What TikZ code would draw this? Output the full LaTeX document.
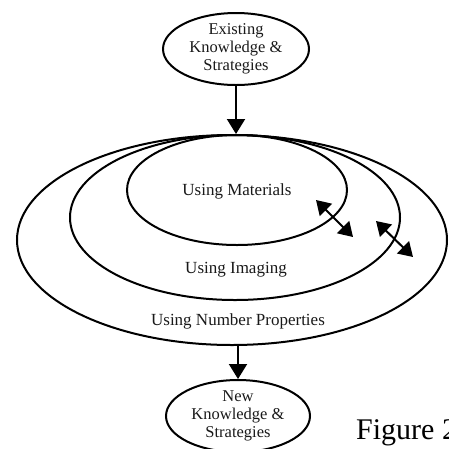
\documentclass[tikz,border=0pt]{standalone}
\usepackage{fontspec}
\setmainfont{Liberation Serif}
\usetikzlibrary{shapes.geometric,arrows.meta}
\tikzset{
  ellbox/.style={draw=black, ellipse, line width=2pt, inner sep=0pt},
  lbl/.style={text=black!90, font=\fontsize{16.5}{18}\selectfont, align=center, inner sep=0pt},
  big/.style={font=\fontsize{17}{19}\selectfont},
  arr/.style={line width=2pt, -{Triangle[length=15pt,width=18pt]}},
  darr/.style={line width=2pt, {Triangle[length=14pt,width=17pt]}-{Triangle[length=14pt,width=17pt]}},
}
\begin{document}
\begin{tikzpicture}[x=1pt,y=-1pt]
\useasboundingbox (0,0) rectangle (449,448);
\clip (0,0) rectangle (449,448);
% top node
\node[ellbox, minimum width=146pt, minimum height=72pt] (ek) at (236,49) {};
\node[lbl] (ektext) at (ek.center) {Existing\\Knowledge \&\\Strategies};
% nested ellipses
\node[ellbox, minimum width=430pt, minimum height=210pt] (outer) at (232,240) {};
\node[ellbox, minimum width=330pt, minimum height=165pt] (middle) at (235,217.5) {};
\node[ellbox, minimum width=220pt, minimum height=110pt] (inner) at (237,190) {};
\node[lbl, big] (mat) at (237,191) {Using Materials};
\node[lbl, big] (img) at (236,270) {Using Imaging};
\node[lbl, big] (num) at (238,321) {Using Number Properties};
% bottom node
\node[ellbox, minimum width=144pt, minimum height=72pt] (nk) at (238,416) {};
\node[lbl] (nktext) at (nk.center) {New\\Knowledge \&\\Strategies};
% arrows
\draw[arr] (ek.south) -- (ek.south |- outer.north);
\draw[arr] (nk.north |- outer.south) -- (nk.north);
\coordinate (a1) at (316,200);
\coordinate (a2) at (353,237);
\coordinate (b1) at (376,221);
\coordinate (b2) at (413,257);
\draw[darr] (a1) -- (a2);
\draw[darr] (b1) -- (b2);
% caption fragment (cut off at the right edge, as in the reference)
\node[anchor=base west, inner sep=0pt, font=\fontsize{30}{32}\selectfont] (fig) at (356,439) {Figure 2};
\end{tikzpicture}
\end{document}
